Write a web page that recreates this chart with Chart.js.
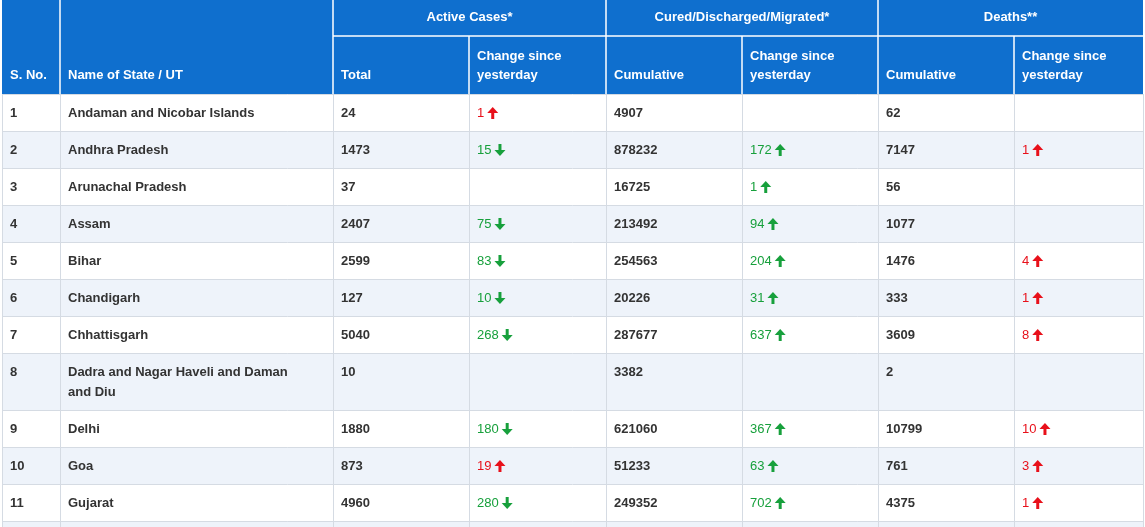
<!DOCTYPE html>
<html><head><meta charset="utf-8">
<script src="https://cdn.jsdelivr.net/npm/chart.js@4"></script>
<style>html,body{margin:0;padding:0;background:#fff}#w{width:1145px;height:527px}</style>
</head><body><div id="w"><canvas id="c" width="1145" height="527"></canvas></div>
<script>
const serial=[1,2,3,4,5,6,7,8,9,10,11];
const states=["Andaman and Nicobar Islands","Andhra Pradesh","Arunachal Pradesh","Assam","Bihar","Chandigarh","Chhattisgarh","Dadra and Nagar Haveli and Daman\nand Diu","Delhi","Goa","Gujarat"];
const activeTotal=[24,1473,37,2407,2599,127,5040,10,1880,873,4960];
const activeChange=[1,-15,null,-75,-83,-10,-268,null,-180,19,-280];
const curedTotal=[4907,878232,16725,213492,254563,20226,287677,3382,621060,51233,249352];
const curedChange=[null,172,1,94,204,31,637,null,367,63,702];
const deathsTotal=[62,7147,56,1077,1476,333,3609,2,10799,761,4375];
const deathsChange=[null,1,null,null,4,1,8,null,10,3,1];
const groupHeaders=["Active Cases*","Cured/Discharged/Migrated*","Deaths**"];
const subHeaders=["S. No.","Name of State / UT","Total","Change since\nyesterday","Cumulative","Change since\nyesterday","Cumulative","Change since\nyesterday"];

// layout (pixels mapped through scales)
const colX=[2,60,333,469,606,742,878,1014,1143];
const rowY=[94,131,168,205,242,279,316,353,410,447,484,521,560];
const HEAD='#0f6fce', ALT='#eef3fa', LINE='#d5dbe3';

function arrow(ctx,x,y,up,color){
  ctx.fillStyle=color;ctx.strokeStyle=color;ctx.lineWidth=3;
  ctx.beginPath();
  if(up){ctx.moveTo(x+5.5,y+6);ctx.lineTo(x+5.5,y-1);}else{ctx.moveTo(x+5.5,y-6);ctx.lineTo(x+5.5,y+1);}
  ctx.stroke();
  ctx.beginPath();
  if(up){ctx.moveTo(x,y);ctx.lineTo(x+5.5,y-6);ctx.lineTo(x+11,y);}else{ctx.moveTo(x,y);ctx.lineTo(x+5.5,y+6);ctx.lineTo(x+11,y);}
  ctx.closePath();ctx.fill();
}

const tablePlugin={id:'table',afterDraw(chart){
  const ctx=chart.ctx, xs=chart.scales.x, ys=chart.scales.y;
  const X=v=>xs.getPixelForValue(v), Y=v=>ys.getPixelForValue(v);
  ctx.save();
  ctx.fillStyle=HEAD;ctx.fillRect(X(colX[0]),Y(0),X(colX[8])-X(colX[0]),Y(94)-Y(0));
  ctx.strokeStyle='#ffffff';ctx.lineWidth=1.5;
  ctx.beginPath();
  ctx.moveTo(X(colX[2]),Y(36));ctx.lineTo(X(colX[8]),Y(36));
  [1,2,4,6].forEach(i=>{ctx.moveTo(X(colX[i]),Y(0));ctx.lineTo(X(colX[i]),Y(94));});
  [3,5,7].forEach(i=>{ctx.moveTo(X(colX[i]),Y(36));ctx.lineTo(X(colX[i]),Y(94));});
  ctx.stroke();
  ctx.fillStyle='#fff';ctx.font="bold 13px 'Liberation Sans', Arial";ctx.textBaseline='middle';
  ctx.textAlign='center';
  groupHeaders.forEach((g,i)=>ctx.fillText(g,(X(colX[2+2*i])+X(colX[4+2*i]))/2,Y(17)));
  ctx.textAlign='left';
  subHeaders.forEach((h,i)=>{
    const lines=h.split('\n');
    if(lines.length===1)ctx.fillText(h,X(colX[i])+8,Y(75));
    else{ctx.fillText(lines[0],X(colX[i])+8,Y(56));ctx.fillText(lines[1],X(colX[i])+8,Y(75));}
  });
  for(let r=0;r<=states.length;r++){
    const y0=Y(rowY[r]),y1=Y(rowY[r+1]);
    ctx.fillStyle=r%2?ALT:'#fff';
    ctx.fillRect(X(colX[0]),y0,X(colX[8])-X(colX[0]),y1-y0);
  }
  ctx.strokeStyle=LINE;ctx.lineWidth=1;ctx.beginPath();
  for(let r=0;r<rowY.length;r++){ctx.moveTo(X(colX[0]),Y(rowY[r])+0.5);ctx.lineTo(X(colX[8]),Y(rowY[r])+0.5);}
  colX.forEach(c=>{ctx.moveTo(X(c)+0.5,Y(94));ctx.lineTo(X(c)+0.5,Y(527));});
  ctx.stroke();
  const txt=(s,col,r,off)=>ctx.fillText(String(s),X(colX[col])+8,Y(rowY[r])+19+(off||0));
  const chg=(v,col,r,upColor,downColor)=>{
    if(v===null)return;
    const up=v>0,color=up?upColor:downColor;
    ctx.font="13px 'Liberation Sans', Arial";ctx.fillStyle=color;
    const s=String(Math.abs(v));const x=X(colX[col])+8,y=Y(rowY[r])+19;
    ctx.fillText(s,x,y);arrow(ctx,x+ctx.measureText(s).width+3,y,up,color);
  };
  const RED='#e8101a',GREEN='#17a03c';
  for(let r=0;r<states.length;r++){
    ctx.font="bold 13px 'Liberation Sans', Arial";ctx.fillStyle='#333';
    txt(serial[r],0,r);
    states[r].split('\n').forEach((l,k)=>txt(l,1,r,k*20));
    txt(activeTotal[r],2,r);txt(curedTotal[r],4,r);txt(deathsTotal[r],6,r);
    chg(activeChange[r],3,r,RED,GREEN);
    chg(curedChange[r],5,r,GREEN,RED);
    chg(deathsChange[r],7,r,RED,GREEN);
  }
  ctx.restore();
}};

new Chart(document.getElementById('c'),{
  type:'scatter',
  data:{datasets:[{data:[]}]},
  options:{responsive:false,animation:false,events:[],
    layout:{padding:0},
    plugins:{legend:{display:false},tooltip:{enabled:false}},
    scales:{x:{type:'linear',min:0,max:1145,display:false},
            y:{type:'linear',min:0,max:527,reverse:true,display:false}}},
  plugins:[tablePlugin]
});
</script></body></html>
